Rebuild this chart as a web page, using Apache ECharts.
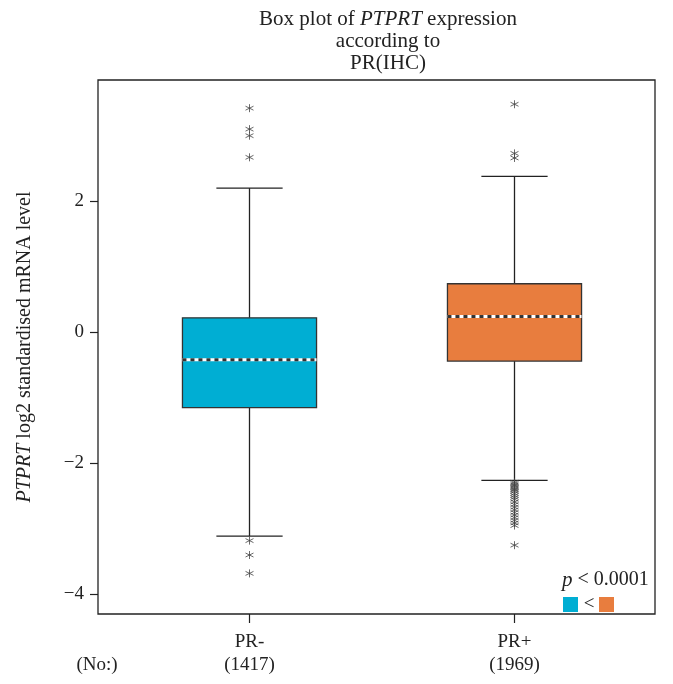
<!DOCTYPE html>
<html><head><meta charset="utf-8">
<script src="https://cdn.jsdelivr.net/npm/echarts@6/dist/echarts.min.js"></script>
<style>html,body{margin:0;padding:0;background:#fff}#c{width:673px;height:684px}</style>
</head><body><div id="c"></div>
<script>
const categories = ['PR-\n(1417)', 'PR+\n(1969)'];
const boxColors = ['#00AED3', '#E87D3E'];
// [min, Q1, median, Q3, max]
const boxStats = [
  [-3.11, -1.15, -0.42, 0.22, 2.20],
  [-2.26, -0.44, 0.24, 0.74, 2.38]
];
const outliersPRneg = [3.42, 3.10, 3.00, 2.67, -3.18, -3.40, -3.68];
const outliersPRpos = [3.48, 2.73, 2.66, -2.29, -2.31, -2.33, -2.35, -2.37, -2.39, -2.41, -2.43, -2.46, -2.49, -2.52, -2.55, -2.59, -2.63, -2.67, -2.71, -2.75, -2.79, -2.83, -2.87, -2.91, -2.95, -3.25];
const yTicks = [-4, -2, 0, 2];

const FONT = '"Liberation Serif", "DejaVu Serif", serif';
const chart = echarts.init(document.getElementById('c'));

const boxData = boxStats.map((s, i) => [i].concat(s));
const outData = [];
outliersPRneg.forEach(v => outData.push([0, v]));
outliersPRpos.forEach(v => outData.push([1, v]));

const asterisk = 'path://M0,-1L0,1M-0.866,-0.5L0.866,0.5M-0.866,0.5L0.866,-0.5';

chart.setOption({
  animation: false,
  title: {
    text: '{n|Box plot of }{i|PTPRT}{n| expression}\n{n|according to}\n{n|PR(IHC)}',
    left: 383, top: 3, textAlign: 'center',
    textStyle: {
      fontFamily: FONT, fontSize: 21, fontWeight: 'normal', color: '#222', lineHeight: 22,
      rich: {
        n: {fontFamily: FONT, fontSize: 21, color: '#222', lineHeight: 22},
        i: {fontFamily: FONT, fontSize: 21, color: '#222', fontStyle: 'italic', lineHeight: 22}
      }
    }
  },
  grid: {left: 117, right: 26, top: 80, bottom: 70, show: false},
  xAxis: {
    type: 'category', data: categories, boundaryGap: true,
    axisLine: {show: false, onZero: false},
    axisTick: {show: true, alignWithLabel: true, length: 9, lineStyle: {color: '#222', width: 1.2}},
    axisLabel: {fontFamily: FONT, fontSize: 19, color: '#222', lineHeight: 23, margin: 17},
    splitLine: {show: false}
  },
  yAxis: {
    type: 'value', min: -4.3, max: 3.85, offset: 19,
    name: '{i|PTPRT} log2 standardised mRNA level',
    nameLocation: 'middle', nameRotate: 90, nameGap: 63,
    nameTextStyle: {
      fontFamily: FONT, fontSize: 20, color: '#222',
      rich: {i: {fontFamily: FONT, fontSize: 20, color: '#222', fontStyle: 'italic'}}
    },
    axisLine: {show: false},
    axisTick: {show: true, length: 8, lineStyle: {color: '#222', width: 1.2}, customValues: yTicks},
    axisLabel: {fontFamily: FONT, fontSize: 19, color: '#222', margin: 14, customValues: yTicks,
      formatter: v => (v < 0 ? '\u2212' + Math.abs(v) : String(v))},
    splitLine: {show: false}
  },
  series: [
    {
      type: 'custom',
      data: boxData,
      encode: {x: 0, y: [1, 2, 3, 4, 5]},
      z: 3,
      renderItem: function (params, api) {
        const x = api.value(0);
        const band = api.size([1, 0])[0];
        const hb = band * 0.253, hc = band * 0.125;
        const pMin = api.coord([x, api.value(1)]);
        const pQ1 = api.coord([x, api.value(2)]);
        const pMed = api.coord([x, api.value(3)]);
        const pQ3 = api.coord([x, api.value(4)]);
        const pMax = api.coord([x, api.value(5)]);
        const cx = pMin[0];
        const ls = {stroke: '#222', lineWidth: 1.3};
        return {
          type: 'group',
          children: [
            {type: 'line', shape: {x1: cx, y1: pMax[1], x2: cx, y2: pQ3[1]}, style: ls},
            {type: 'line', shape: {x1: cx, y1: pQ1[1], x2: cx, y2: pMin[1]}, style: ls},
            {type: 'line', shape: {x1: cx - hc, y1: pMax[1], x2: cx + hc, y2: pMax[1]}, style: ls},
            {type: 'line', shape: {x1: cx - hc, y1: pMin[1], x2: cx + hc, y2: pMin[1]}, style: ls},
            {type: 'rect', shape: {x: cx - hb, y: pQ3[1], width: 2 * hb, height: pQ1[1] - pQ3[1]},
              style: {fill: boxColors[params.dataIndex], stroke: '#333', lineWidth: 1.3}},
            {type: 'line', shape: {x1: cx - hb, y1: pMed[1], x2: cx + hb, y2: pMed[1]},
              style: {stroke: '#fff', lineWidth: 3}},
            {type: 'line', shape: {x1: cx - hb, y1: pMed[1], x2: cx + hb, y2: pMed[1]},
              style: {stroke: '#333', lineWidth: 3, lineDash: [4, 4]}}
          ]
        };
      }
    },
    {
      type: 'scatter',
      data: outData,
      symbol: asterisk,
      symbolSize: 8,
      z: 4,
      itemStyle: {color: 'rgba(0,0,0,0)', borderColor: '#444', borderWidth: 1}
    }
  ],
  graphic: [
    {type: 'rect', z: 10, shape: {x: 98, y: 80, width: 557, height: 534},
      style: {fill: 'none', stroke: '#222', lineWidth: 1.3}},
    {type: 'text', x: 97, y: 665, style: {text: '(No:)', font: '19px ' + FONT, fill: '#222', align: 'center', verticalAlign: 'middle'}},
    {type: 'text', x: 562, y: 580, style: {
      text: '{i|p} < 0.0001', font: '20px ' + FONT, fill: '#222', verticalAlign: 'middle',
      rich: {i: {fontStyle: 'italic', fontFamily: FONT, fontSize: 21, fill: '#222'}}
    }},
    {type: 'rect', shape: {x: 563, y: 597, width: 15, height: 15}, style: {fill: boxColors[0]}},
    {type: 'text', x: 589, y: 604, style: {text: '<', font: '19px ' + FONT, fill: '#222', align: 'center', verticalAlign: 'middle'}},
    {type: 'rect', shape: {x: 599, y: 597, width: 15, height: 15}, style: {fill: boxColors[1]}}
  ]
});
</script></body></html>
